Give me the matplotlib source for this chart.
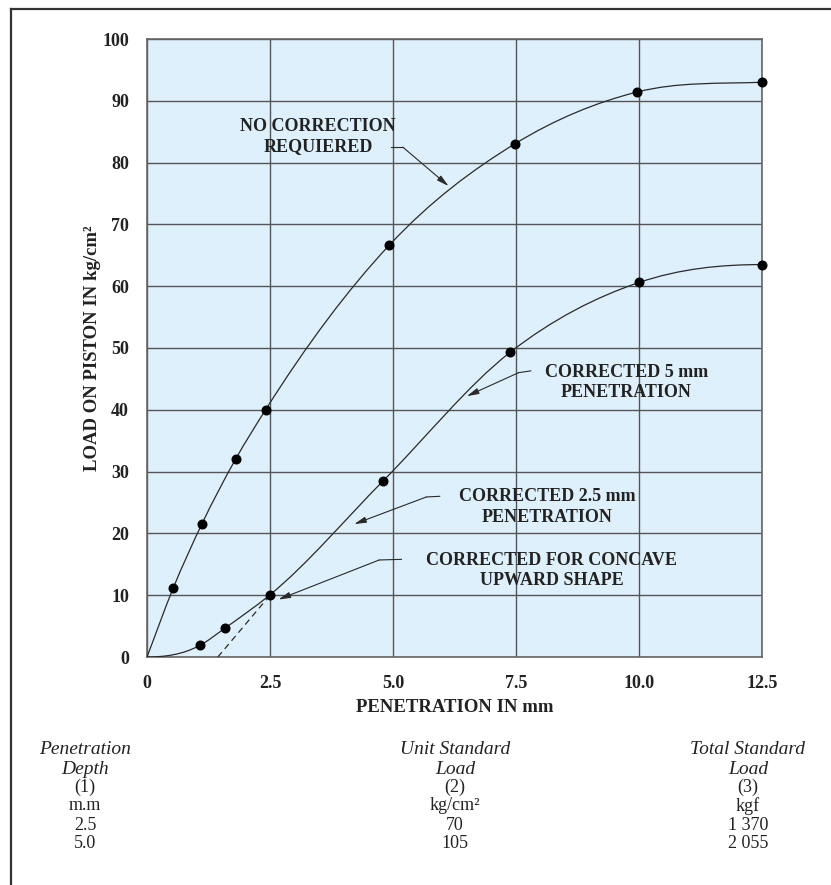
import numpy as np
import matplotlib
matplotlib.use("Agg")
import matplotlib.pyplot as plt
from matplotlib.path import Path
from matplotlib.patches import PathPatch
from matplotlib.lines import Line2D

# values (the origin starts each curve but has no dot)
no_corr_x = [0, 0.53, 1.12, 1.80, 2.41, 4.92, 7.47, 9.95, 12.5]
no_corr_y = [0, 11.1, 21.6, 32.0, 40.0, 66.6, 83.0, 91.4, 93.0]
corr_x = [0, 1.08, 1.59, 2.49, 4.80, 7.38, 10.0, 12.5]
corr_y = [0, 1.9, 4.7, 10.0, 28.5, 49.3, 60.6, 63.5]
tangent_x = [1.44, 2.5]
tangent_y = [0, 10]

x_ticks = [0, 2.5, 5.0, 7.5, 10.0, 12.5]
x_tick_labels = ["0", "2.5", "5.0", "7.5", "10.0", "12.5"]
y_ticks = list(range(0, 101, 10))

table_cols = [
    ["Penetration", "Depth", "(1)", "m.m", "2.5", "5.0"],
    ["Unit Standard", "Load", "(2)", "kg/cm²", "70", "105"],
    ["Total Standard", "Load", "(3)", "kgf", "1 370", "2 055"],
]

SERIF = "Liberation Serif"
BG = "#def0fb"
GRID = "#555555"
INK = "#2a2a2a"


def smooth_path(xs, ys, start_slope=None, end_slope=None):
    # cubic hermite through the points, drawn as bezier segments
    x = np.asarray(xs, float)
    y = np.asarray(ys, float)
    h = np.diff(x)
    d = np.diff(y) / h
    s = np.empty_like(x)
    s[1:-1] = (h[1:] * d[:-1] + h[:-1] * d[1:]) / (h[:-1] + h[1:])
    s[0] = d[0] if start_slope is None else start_slope
    s[-1] = d[-1] if end_slope is None else end_slope
    verts = [(x[0], y[0])]
    codes = [Path.MOVETO]
    for i in range(len(h)):
        t = h[i] / 3
        verts += [(x[i] + t, y[i] + s[i] * t),
                  (x[i + 1] - t, y[i + 1] - s[i + 1] * t),
                  (x[i + 1], y[i + 1])]
        codes += [Path.CURVE4] * 3
    return Path(verts, codes)


fig = plt.figure(figsize=(8.31, 8.85), dpi=100)
ax = fig.add_axes([147 / 831, 1 - 657 / 885, 615 / 831, 618 / 885])
ax.set_facecolor(BG)
ax.set_xlim(0, 12.5)
ax.set_ylim(0, 100)

ax.set_xticks(x_ticks)
ax.set_xticklabels(x_tick_labels)
ax.set_yticks(y_ticks)
ax.tick_params(length=0, pad=13, labelsize=13)
for lab in ax.get_xticklabels() + ax.get_yticklabels():
    lab.set_fontfamily(SERIF)
    lab.set_fontweight("bold")
    lab.set_color("#222222")
ax.grid(True, color=GRID, lw=1.0)
for sp in ax.spines.values():
    sp.set_color("#666666")
    sp.set_linewidth(1.2)

# curves
ax.add_patch(PathPatch(smooth_path(no_corr_x, no_corr_y, end_slope=0.3),
                       fill=False, ec=INK, lw=0.9, zorder=3))
ax.add_patch(PathPatch(smooth_path(corr_x, corr_y, start_slope=0, end_slope=0),
                       fill=False, ec=INK, lw=0.9, zorder=3))
ax.plot(tangent_x, tangent_y, ls=(0, (5, 3.5)), color=INK, lw=0.9, zorder=3)
ax.plot(no_corr_x[1:], no_corr_y[1:], "o", color="black", ms=6.2,
        zorder=4, clip_on=False)
ax.plot(corr_x[1:], corr_y[1:], "o", color="black", ms=6.2,
        zorder=4, clip_on=False)

# notes: text centre, stub start, stub end, arrow tip
notes = [
    ("NO CORRECTION\nREQUIERED", (3.48, 84.2), (4.95, 82.5), (5.2, 82.5), (6.13, 76.2)),
    ("CORRECTED 5 mm\nPENETRATION", (9.74, 44.4), (7.80, 46.3), (7.55, 46.0), (6.5, 42.2)),
    ("CORRECTED 2.5 mm\nPENETRATION", (8.13, 24.3), (5.95, 26.0), (5.68, 25.9), (4.21, 21.5)),
    ("CORRECTED FOR CONCAVE\nUPWARD SHAPE", (8.23, 14.0), (5.17, 15.8), (4.72, 15.7), (2.67, 9.3)),
]
for label, pos, stub0, stub1, tip in notes:
    ax.text(pos[0], pos[1], label, ha="center", va="center", fontsize=13,
            fontweight="bold", family=SERIF, color="#222222",
            linespacing=1.28, zorder=5)
    ax.plot([stub0[0], stub1[0]], [stub0[1], stub1[1]], color=INK, lw=0.8)
    ax.annotate("", xy=tip, xytext=stub1,
                arrowprops=dict(arrowstyle="-|>,head_length=0.6,head_width=0.15",
                                color=INK, lw=0.8, shrinkA=0, shrinkB=0,
                                mutation_scale=12))

ax.set_xlabel("PENETRATION IN mm", fontsize=13.5, fontweight="bold",
              family=SERIF, color="#222222", va="center")
ax.xaxis.set_label_coords(0.5, -0.082)
ax.set_ylabel("LOAD ON PISTON IN kg/cm²", fontsize=13.5, fontweight="bold",
              family=SERIF, color="#222222", va="center")
ax.yaxis.set_label_coords(-0.088, 0.5)

# table below the chart
col_x = [85, 455, 748]
row_y = [750, 769, 787, 806, 825, 843]
for cx, col in zip(col_x, table_cols):
    for j, (ry, txt) in enumerate(zip(row_y, col)):
        head = j < 2
        fig.text(cx / 831, 1 - ry / 885, txt, ha="center", va="center",
                 fontsize=14 if head else 13, family=SERIF, color="#222222",
                 style="italic" if head else "normal")

# page frame (top and left edges)
fig.add_artist(Line2D([11 / 831, 1], [1 - 9 / 885] * 2,
                      transform=fig.transFigure, color="#333333", lw=1.6))
fig.add_artist(Line2D([11 / 831] * 2, [0, 1 - 9 / 885],
                      transform=fig.transFigure, color="#333333", lw=1.6))

fig.savefig("out.png", dpi=100, facecolor="white")
